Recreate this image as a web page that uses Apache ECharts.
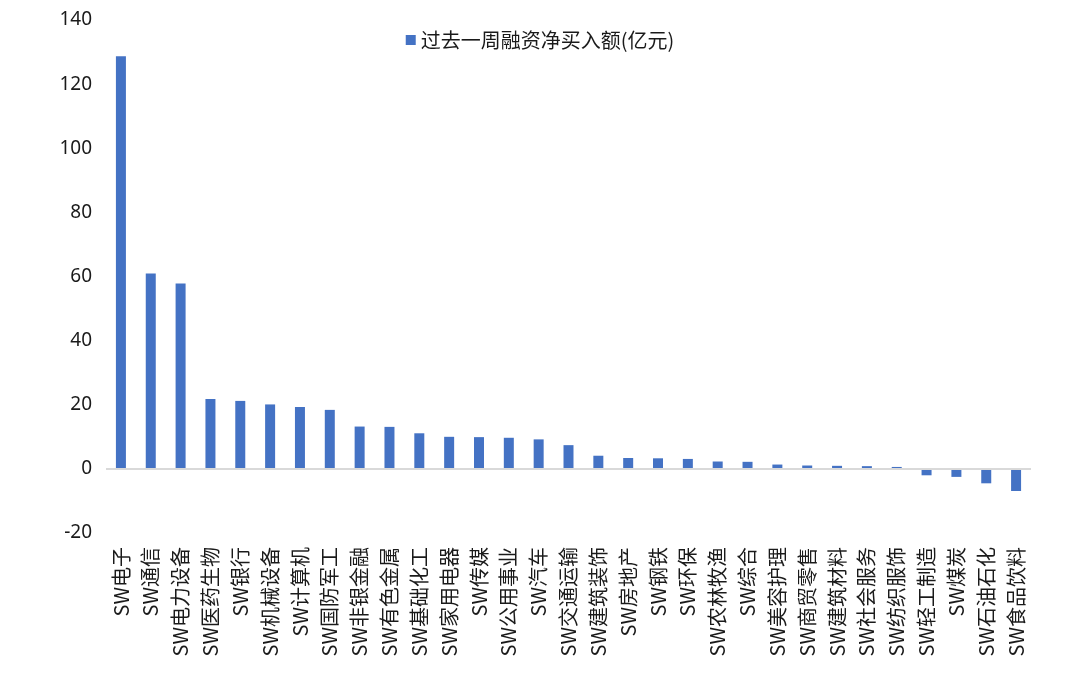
<!DOCTYPE html>
<html>
<head>
<meta charset="utf-8">
<script src="https://cdn.jsdelivr.net/npm/echarts@6/dist/echarts.min.js"></script>
<style>
html,body{margin:0;padding:0;background:#fff;}
#main{width:1080px;height:684px;}
</style>
</head>
<body>
<div id="main"></div>
<script>
var categories = ["SW电子","SW通信","SW电力设备","SW医药生物","SW银行","SW机械设备","SW计算机","SW国防军工","SW非银金融","SW有色金属","SW基础化工","SW家用电器","SW传媒","SW公用事业","SW汽车","SW交通运输","SW建筑装饰","SW房地产","SW钢铁","SW环保","SW农林牧渔","SW综合","SW美容护理","SW商贸零售","SW建筑材料","SW社会服务","SW纺织服饰","SW轻工制造","SW煤炭","SW石油石化","SW食品饮料"];
var seriesName = "过去一周融资净买入额(亿元)";
var values = [128.7,60.9,57.8,21.8,21.2,20.1,19.3,18.4,13.2,13.1,11.1,10.0,9.9,9.7,9.2,7.4,4.1,3.4,3.3,3.1,2.3,2.2,1.35,1.05,0.95,0.85,0.6,-2.0,-2.5,-4.5,-6.9];
var yMin = -20, yMax = 140, yStep = 20;

var chart = echarts.init(document.getElementById('main'));
chart.setOption({
  animation: false,
  backgroundColor: '#ffffff',
  textStyle: { fontFamily: '"Noto Sans CJK SC","Noto Sans",sans-serif' },
  legend: {
    top: 25,
    left: 'center',
    itemWidth: 10,
    itemHeight: 10,
    itemGap: 9,
    icon: 'rect',
    textStyle: { fontSize: 20, color: '#1a1a1a', fontFamily: '"Noto Sans CJK SC",sans-serif' },
    data: [seriesName]
  },
  grid: { left: 106, right: 49, top: 20, bottom: 151, containLabel: false },
  xAxis: {
    type: 'category',
    data: categories,
    axisLine: { show: false, onZero: false },
    axisTick: { show: false },
    axisLabel: {
      rotate: 90,
      interval: 0,
      margin: 14,
      fontSize: 20,
      color: '#1a1a1a',
      fontFamily: '"Noto Sans CJK SC",sans-serif'
    }
  },
  yAxis: {
    type: 'value',
    min: yMin,
    max: yMax,
    interval: yStep,
    axisLine: { show: false },
    axisTick: { show: false },
    splitLine: { show: false },
    axisLabel: { fontSize: 19, color: '#1a1a1a', margin: 14, fontFamily: '"Noto Sans","Open Sans",sans-serif' }
  },
  series: [{
    name: seriesName,
    type: 'bar',
    data: values,
    barWidth: 10,
    itemStyle: { color: '#4472C4' },
    markLine: {
      silent: true,
      symbol: 'none',
      label: { show: false },
      lineStyle: { color: '#d9d9d9', width: 2, type: 'solid' },
      data: [{ yAxis: 0 }]
    },
    z: 3
  }]
});
</script>
</body>
</html>
